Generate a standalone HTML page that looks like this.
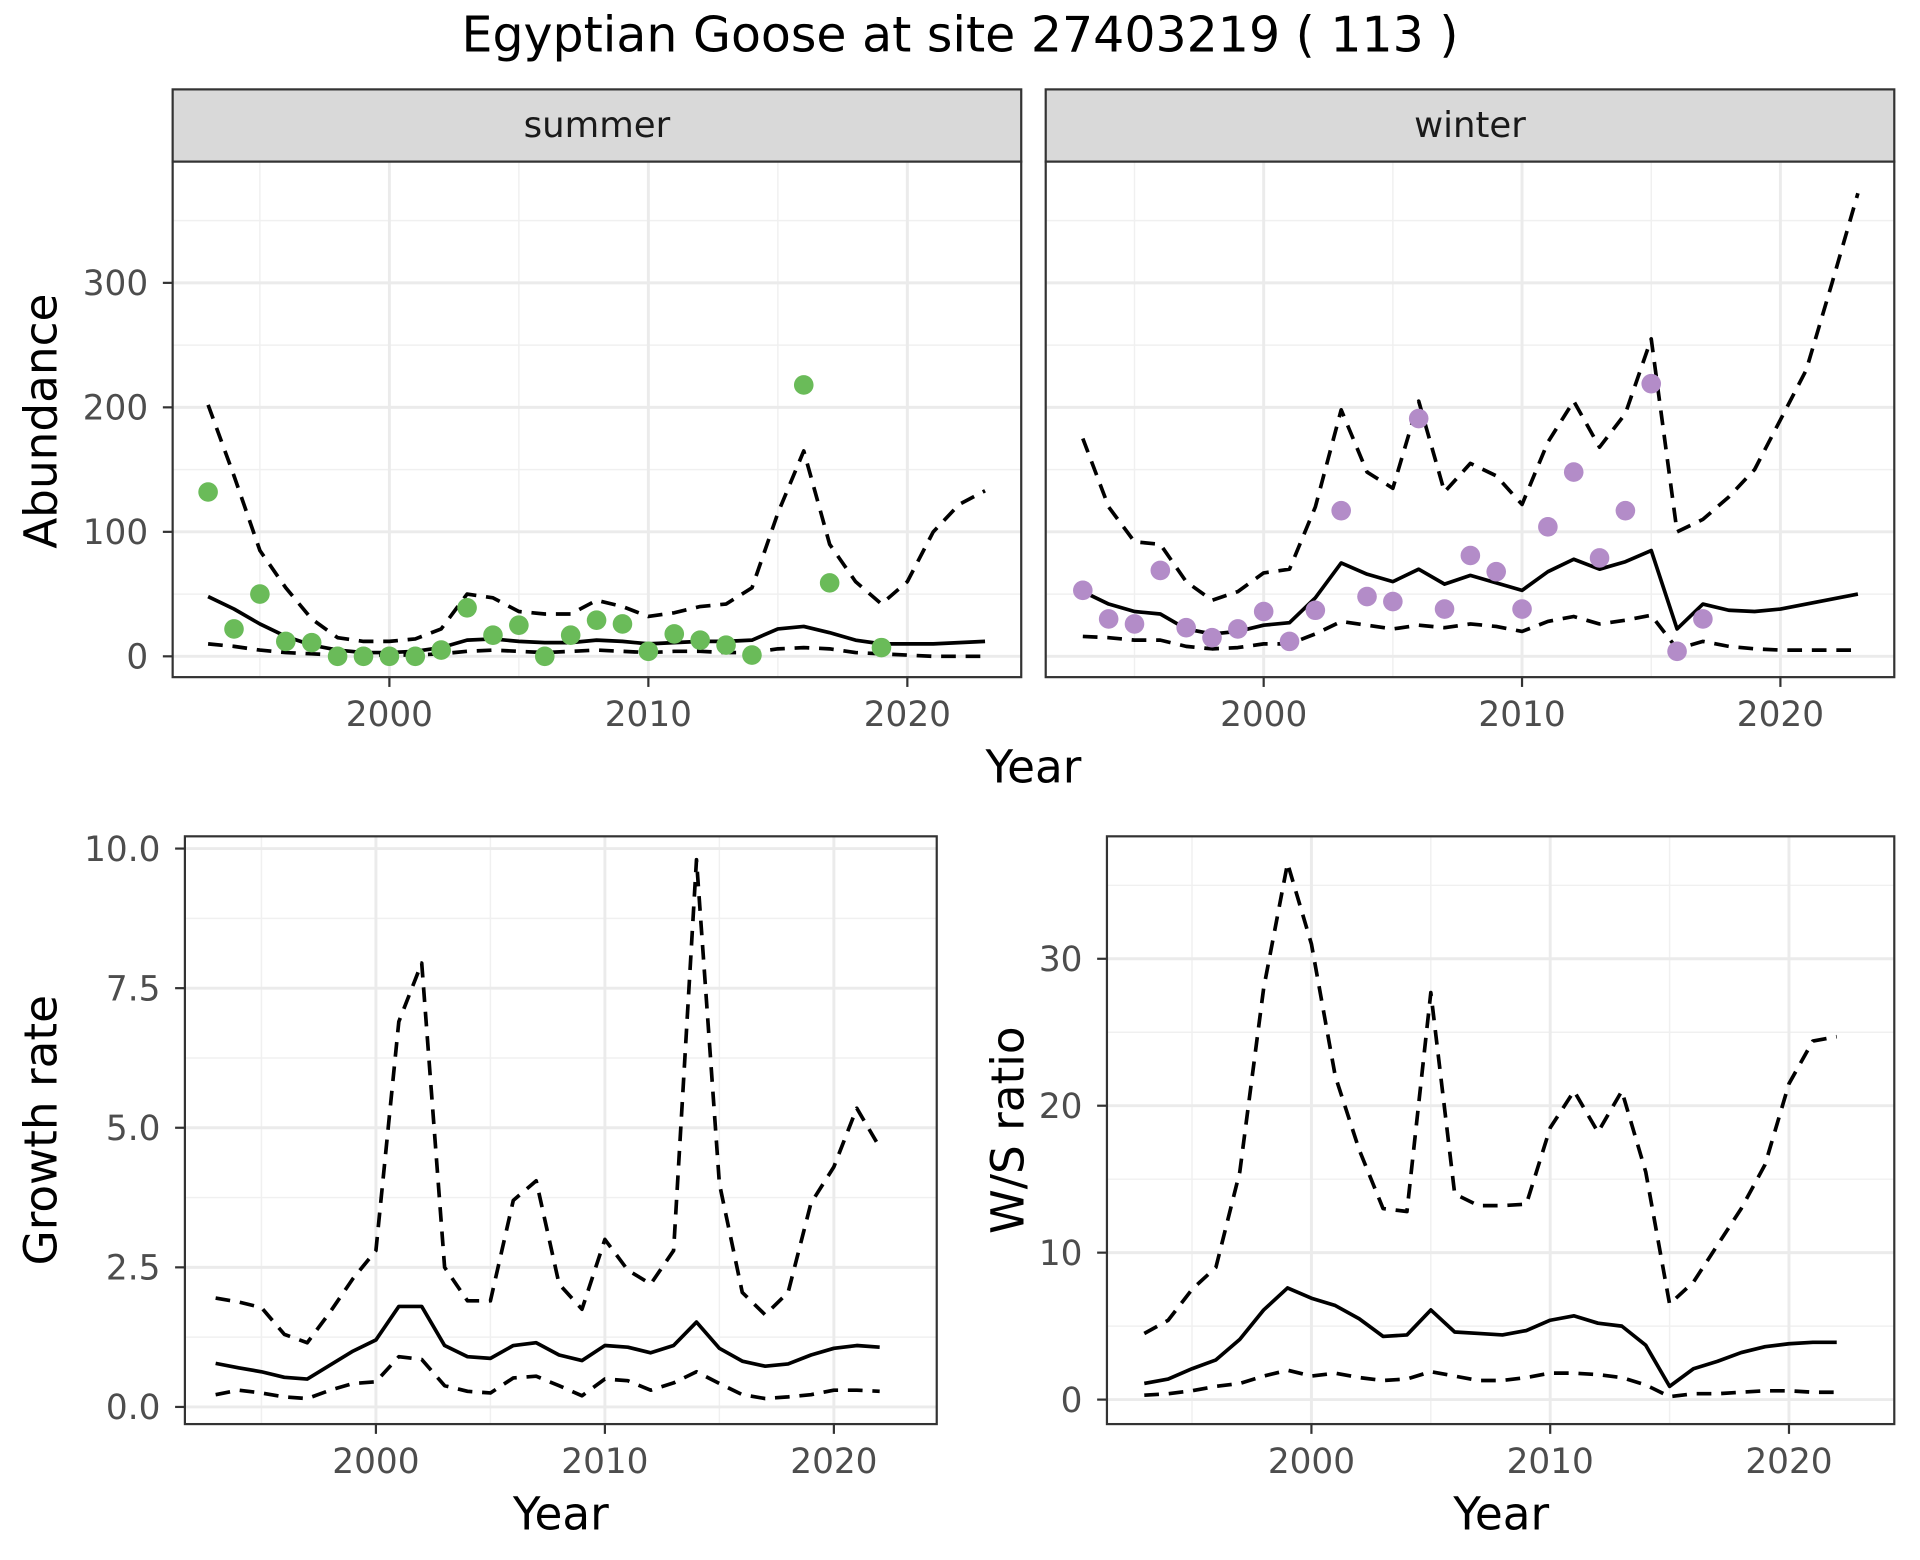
<!DOCTYPE html>
<html><head><meta charset="utf-8">
<style>
html,body{margin:0;padding:0;background:#fff;}
svg{display:block;font-family:"DejaVu Sans","Liberation Sans",sans-serif;}
</style></head>
<body>
<svg id="chart" width="1920" height="1560" viewBox="0 0 1568 1274" xmlns="http://www.w3.org/2000/svg">
<rect width="1568" height="1274" fill="#fff"/>
<text x="784" y="42" font-size="40" text-anchor="middle" fill="#000">Egyptian Goose at site 27403219 ( 113 )</text>
</svg>
<script>
// ---------- data ----------
const yearsAbund = [1993,1994,1995,1996,1997,1998,1999,2000,2001,2002,2003,2004,2005,2006,2007,2008,2009,2010,2011,2012,2013,2014,2015,2016,2017,2018,2019,2020,2021,2022,2023];
const summerPtYears = [1993,1994,1995,1996,1997,1998,1999,2000,2001,2002,2003,2004,2005,2006,2007,2008,2009,2010,2011,2012,2013,2014,2016,2017,2019];
const summerPtVals = [132,22,50,12,11,0,0,0,0,5,39,17,25,0,17,29,26,4,18,13,9,1,218,59,7];
const summerMean = [48,38,26,16,9,5,3,3,4,7,13,14,12,11,11,13,12,10,11,12,12,13,22,24,19,13,10,10,10,11,12];
const summerUpper = [202,145,85,55,30,15,12,12,14,22,50,47,36,34,34,45,40,32,35,40,42,55,115,165,90,60,42,60,100,122,133];
const summerLower = [10,8,5,3,2,1,1,1,1,2,4,5,4,3,4,5,4,3,4,4,3,3,6,7,6,3,2,1,0,0,0];
const winterPtYears = [1993,1994,1995,1996,1997,1998,1999,2000,2001,2002,2003,2004,2005,2006,2007,2008,2009,2010,2011,2012,2013,2014,2015,2016,2017];
const winterPtVals = [53,30,26,69,23,15,22,36,12,37,117,48,44,191,38,81,68,38,104,148,79,117,219,4,30];
const winterMean = [52,42,36,34,22,18,20,25,27,47,75,66,60,70,58,65,59,53,68,78,70,76,85,22,42,37,36,38,42,46,50];
const winterUpper = [175,120,92,90,60,45,52,67,70,120,198,148,135,205,132,155,145,122,172,205,168,195,255,100,110,128,150,190,230,300,372];
const winterLower = [16,15,13,13,8,6,7,10,10,18,28,25,22,25,23,26,24,20,28,32,26,29,33,6,12,8,6,5,5,5,5];
const yearsRatio = [1993,1994,1995,1996,1997,1998,1999,2000,2001,2002,2003,2004,2005,2006,2007,2008,2009,2010,2011,2012,2013,2014,2015,2016,2017,2018,2019,2020,2021,2022];
const growthMean = [0.78,0.7,0.63,0.53,0.5,0.75,1.0,1.2,1.8,1.8,1.1,0.9,0.87,1.1,1.15,0.93,0.83,1.1,1.07,0.97,1.1,1.52,1.05,0.82,0.73,0.77,0.93,1.05,1.1,1.07];
const growthUpper = [1.95,1.88,1.78,1.3,1.15,1.7,2.3,2.8,6.9,7.95,2.5,1.9,1.9,3.7,4.05,2.2,1.75,3.0,2.45,2.2,2.8,9.8,4.0,2.05,1.65,2.05,3.65,4.3,5.35,4.65];
const growthLower = [0.22,0.3,0.25,0.18,0.15,0.3,0.42,0.45,0.9,0.85,0.38,0.28,0.25,0.52,0.55,0.38,0.2,0.5,0.47,0.3,0.43,0.63,0.42,0.22,0.15,0.18,0.22,0.3,0.3,0.28];
const wsMean = [1.1,1.4,2.1,2.7,4.1,6.1,7.6,6.9,6.4,5.5,4.3,4.4,6.1,4.6,4.5,4.4,4.7,5.4,5.7,5.2,5.0,3.7,0.9,2.1,2.6,3.2,3.6,3.8,3.9,3.9];
const wsUpper = [4.5,5.4,7.5,9.0,15.5,28,36.5,31,22,17,13,12.8,27.7,14,13.2,13.2,13.3,18.5,21,18.2,21,15.5,6.5,8,10.5,13,16,21.5,24.4,24.7];
const wsLower = [0.3,0.4,0.6,0.9,1.1,1.6,2.0,1.6,1.8,1.5,1.3,1.4,1.9,1.6,1.3,1.3,1.5,1.8,1.8,1.7,1.5,1.0,0.2,0.4,0.4,0.5,0.6,0.6,0.5,0.5];
const xTicks = [2000,2010,2020];
const xMinor = [1995,2005,2015];
const abundTicks = [0,100,200,300];
const abundMinor = [50,150,250,350];
const growthTicks = [0,2.5,5,7.5,10];
const growthTickLabels = ["0.0","2.5","5.0","7.5","10.0"];
const growthMinor = [1.25,3.75,6.25,8.75];
const wsTicks = [0,10,20,30];
const wsMinor = [5,15,25,35];

// ---------- helpers ----------
const NS = "http://www.w3.org/2000/svg";
const svg = document.getElementById("chart");
const TICK = 28, AXT = 37, LW = 3;
function mk(tag, attrs, parent){
  const e = document.createElementNS(NS, tag);
  for (const k in attrs) e.setAttribute(k, attrs[k]);
  (parent||svg).appendChild(e);
  return e;
}
function lin(d0,d1,r0,r1){ return v => r0 + (v-d0)*(r1-r0)/(d1-d0); }

function panel(o){
  const g = mk("g",{});
  
  
  const {x0,x1,y0,y1,sx,sy} = o;
  mk("rect",{x:x0,y:y0,width:x1-x0,height:y1-y0,fill:"#fff"},g);
  o.xMinor.forEach(v=>{ const x=sx(v); if(x>x0&&x<x1) mk("line",{x1:x,x2:x,y1:y0,y2:y1,stroke:"#f0f0f0","stroke-width":1.2},g); });
  o.yMinor.forEach(v=>{ const y=sy(v); if(y>y0&&y<y1) mk("line",{x1:x0,x2:x1,y1:y,y2:y,stroke:"#f0f0f0","stroke-width":1.2},g); });
  o.xTicks.forEach(v=>{ const x=sx(v); mk("line",{x1:x,x2:x,y1:y0,y2:y1,stroke:"#ebebeb","stroke-width":2.4},g); });
  o.yTicks.forEach(v=>{ const y=sy(v); mk("line",{x1:x0,x2:x1,y1:y,y2:y,stroke:"#ebebeb","stroke-width":2.4},g); });
  return g;
}
function border(g,o){
  mk("rect",{x:o.x0,y:o.y0,width:o.x1-o.x0,height:o.y1-o.y0,fill:"none",stroke:"#333","stroke-width":1.8},g);
}
function axes(o, showY){
  o.xTicks.forEach(v=>{
    const x=o.sx(v);
    mk("line",{x1:x,x2:x,y1:o.y1,y2:o.y1+8,stroke:"#333","stroke-width":1.8});
    const t=mk("text",{x:x,y:o.y1+40,"font-size":TICK,"text-anchor":"middle",fill:"#4d4d4d"});
    t.textContent=v;
    
    
  });
  if(showY){
    o.yTicks.forEach((v,i)=>{
      const y=o.sy(v);
      mk("line",{x1:o.x0-8,x2:o.x0,y1:y,y2:y,stroke:"#333","stroke-width":1.8});
      const t=mk("text",{x:o.x0-20,y:y+10,"font-size":TICK,"text-anchor":"end",fill:"#4d4d4d"});
      t.textContent=o.yLabels?o.yLabels[i]:v;
      
      
    });
  }
}
function line(g, xs, ys, o, dashed, name){
  const pts = xs.map((x,i)=>o.sx(x).toFixed(2)+","+o.sy(ys[i]).toFixed(2)).join(" ");
  const p = mk("polyline",{points:pts,fill:"none",stroke:"#000","stroke-width":LW,"stroke-linejoin":"round"},g);
  if(dashed) p.setAttribute("stroke-dasharray","12,8");
  
  
}
function points(g, xs, ys, o, color, name){
  xs.forEach((x,i)=>{
    const c = mk("circle",{cx:o.sx(x),cy:o.sy(ys[i]),r:8,fill:color},g);
    
    
  });
}
function label(txt,x,y,size,rot,name){
  const t = mk("text",{x:x,y:y,"font-size":size,"text-anchor":"middle",fill:"#000"});
  if(rot) t.setAttribute("transform","rotate(-90 "+x+" "+y+")");
  t.textContent = txt;
  
  
}

// ---------- top facets ----------
const abY = lin(0,300,536,231);
const summer = {name:"summer-panel",x0:141,x1:834,y0:132,y1:553,sx:lin(2000,2020,318,741),sy:abY,xTicks,xMinor,yTicks:abundTicks,yMinor:abundMinor};
const winter = {name:"winter-panel",x0:854,x1:1547,y0:132,y1:553,sx:lin(2000,2020,1032,1454),sy:abY,xTicks,xMinor,yTicks:abundTicks,yMinor:abundMinor};

[[summer,"summer"],[winter,"winter"]].forEach(([o,lab])=>{
  const s = mk("rect",{x:o.x0,y:73,width:o.x1-o.x0,height:59,fill:"#d9d9d9",stroke:"#333","stroke-width":1.8});
  
  
  const t = mk("text",{x:(o.x0+o.x1)/2,y:112,"font-size":29,"text-anchor":"middle",fill:"#1a1a1a"});
  t.textContent = lab;
  
  
});

let g = panel(summer);
line(g, yearsAbund, summerUpper, summer, true, "summer-upper-ci");
line(g, yearsAbund, summerLower, summer, true, "summer-lower-ci");
line(g, yearsAbund, summerMean, summer, false, "summer-mean-line");
points(g, summerPtYears, summerPtVals, summer, "#6abb59", "summer-count-point");
border(g, summer); axes(summer, true);

g = panel(winter);
line(g, yearsAbund, winterUpper, winter, true, "winter-upper-ci");
line(g, yearsAbund, winterLower, winter, true, "winter-lower-ci");
line(g, yearsAbund, winterMean, winter, false, "winter-mean-line");
points(g, winterPtYears, winterPtVals, winter, "#b38cc8", "winter-count-point");
border(g, winter); axes(winter, false);

label("Abundance", 46, 344, AXT, true, "abundance-y-title");
label("Year", 844, 639, AXT, false, "top-x-title");

// ---------- growth rate ----------
const gr = {name:"growth-rate-panel",x0:151,x1:765,y0:683,y1:1163,sx:lin(2000,2020,307,681),sy:lin(0,10,1149,693),xTicks,xMinor,yTicks:growthTicks,yMinor:growthMinor,yLabels:growthTickLabels};
g = panel(gr);
line(g, yearsRatio, growthUpper, gr, true, "growth-upper-ci");
line(g, yearsRatio, growthLower, gr, true, "growth-lower-ci");
line(g, yearsRatio, growthMean, gr, false, "growth-mean-line");
border(g, gr); axes(gr, true);
label("Growth rate", 46, 923, AXT, true, "growth-y-title");
label("Year", 458, 1249, AXT, false, "growth-x-title");

// ---------- W/S ratio ----------
const ws = {name:"ws-ratio-panel",x0:904,x1:1547,y0:683,y1:1163,sx:lin(2000,2020,1071,1461),sy:lin(0,30,1143,783),xTicks,xMinor,yTicks:wsTicks,yMinor:wsMinor};
g = panel(ws);
line(g, yearsRatio, wsUpper, ws, true, "ws-upper-ci");
line(g, yearsRatio, wsLower, ws, true, "ws-lower-ci");
line(g, yearsRatio, wsMean, ws, false, "ws-mean-line");
border(g, ws); axes(ws, true);
label("W/S ratio", 836, 923, AXT, true, "ws-y-title");
label("Year", 1226, 1249, AXT, false, "ws-x-title");
</script>
</body></html>
